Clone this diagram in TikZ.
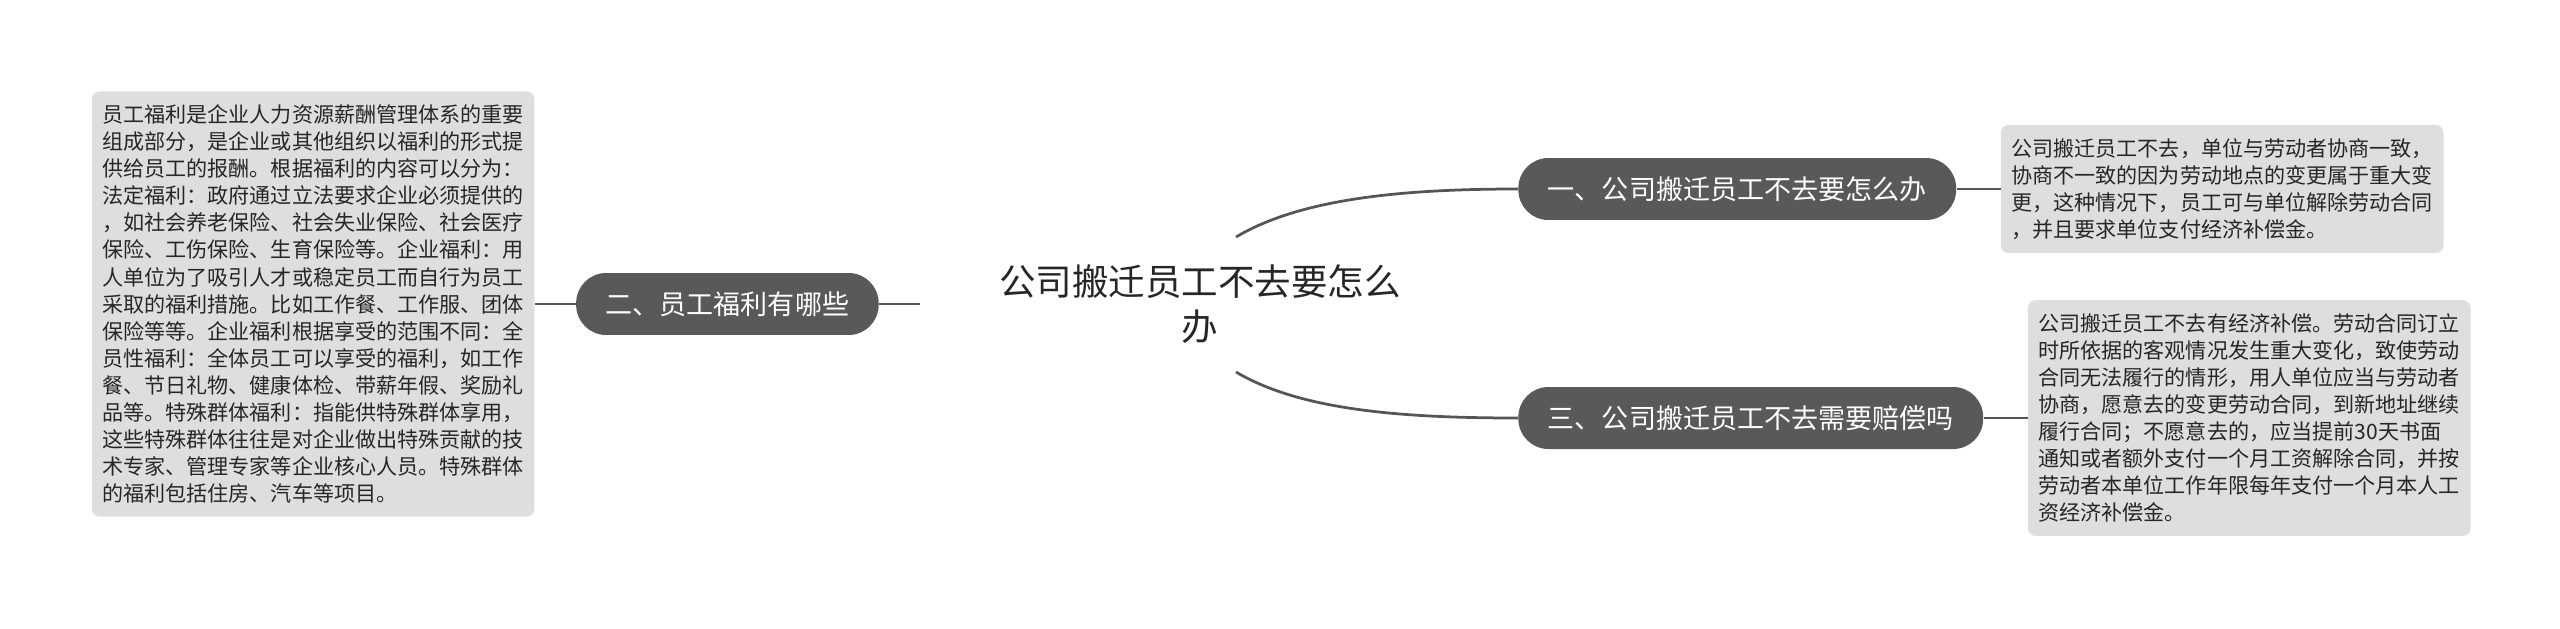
\documentclass[tikz,border=0pt]{standalone}
\usepackage{fontspec}
\setmainfont{Noto Sans CJK SC}
\usetikzlibrary{positioning}

\definecolor{notegray}{HTML}{DEDEDE}
\definecolor{topicgray}{HTML}{595959}
\definecolor{linkgray}{HTML}{555555}
\definecolor{inkgray}{HTML}{262626}

\begin{document}
\begin{tikzpicture}[
  x=0.02cm, y=-0.02cm,
  node distance=8.8mm,
  topic/.style={fill=topicgray,rounded corners=6mm,minimum height=12.4mm,inner xsep=5.9mm,
                text=white,font=\fontsize{15.4}{18}\selectfont},
  note/.style={fill=notegray,rounded corners=1.6mm,align=left,inner xsep=2.1mm,inner ysep=2.7mm,
               text=inkgray,font=\fontsize{12}{15.4}\selectfont},
  link/.style={draw=linkgray,line width=0.55mm},
]
\useasboundingbox (0,0) rectangle (2560,629);

\node[align=center,text=inkgray,font=\fontsize{20.8}{26}\selectfont] (root) at (1200,304)
  {公司搬迁员工不去要怎么\\办};
\coordinate (r1) at (1236,237);
\coordinate (r3) at (1236,372);
\coordinate (r2) at (920,304);

\node[topic, anchor=west] (n1) at (1518,189) {一、公司搬迁员工不去要怎么办};
\node[topic, anchor=west] (n3) at (1518,418) {三、公司搬迁员工不去需要赔偿吗};
\node[topic, anchor=east] (n2) at (879,304)  {二、员工福利有哪些};

\node[note, right=of n1] (b1) {公司搬迁员工不去，单位与劳动者协商一致，\\
协商不一致的因为劳动地点的变更属于重大变\\
更，这种情况下，员工可与单位解除劳动合同\\
，并且要求单位支付经济补偿金。};

\node[note, right=of n3] (b3) {公司搬迁员工不去有经济补偿。劳动合同订立\\
时所依据的客观情况发生重大变化，致使劳动\\
合同无法履行的情形，用人单位应当与劳动者\\
协商，愿意去的变更劳动合同，到新地址继续\\
履行合同；不愿意去的，应当提前30天书面\\
通知或者额外支付一个月工资解除合同，并按\\
劳动者本单位工作年限每年支付一个月本人工\\
资经济补偿金。};

\node[note, left=8.2mm of n2] (b2) {员工福利是企业人力资源薪酬管理体系的重要\\
组成部分，是企业或其他组织以福利的形式提\\
供给员工的报酬。根据福利的内容可以分为：\\
法定福利：政府通过立法要求企业必须提供的\\
，如社会养老保险、社会失业保险、社会医疗\\
保险、工伤保险、生育保险等。企业福利：用\\
人单位为了吸引人才或稳定员工而自行为员工\\
采取的福利措施。比如工作餐、工作服、团体\\
保险等等。企业福利根据享受的范围不同：全\\
员性福利：全体员工可以享受的福利，如工作\\
餐、节日礼物、健康体检、带薪年假、奖励礼\\
品等。特殊群体福利：指能供特殊群体享用，\\
这些特殊群体往往是对企业做出特殊贡献的技\\
术专家、管理专家等企业核心人员。特殊群体\\
的福利包括住房、汽车等项目。};

% branches
\draw[link] (r1) .. controls (1300,199) and (1400,189) .. (n1.west);
\draw[link] (r3) .. controls (1300,410) and (1400,418) .. (n3.west);
\draw[link] (n2.east) -- (r2);
\draw[link] (n1.east) -- (b1.west);
\draw[link] (n3.east) -- (b3.west);
\draw[link] (b2.east) -- (n2.west);
\end{tikzpicture}
\end{document}
